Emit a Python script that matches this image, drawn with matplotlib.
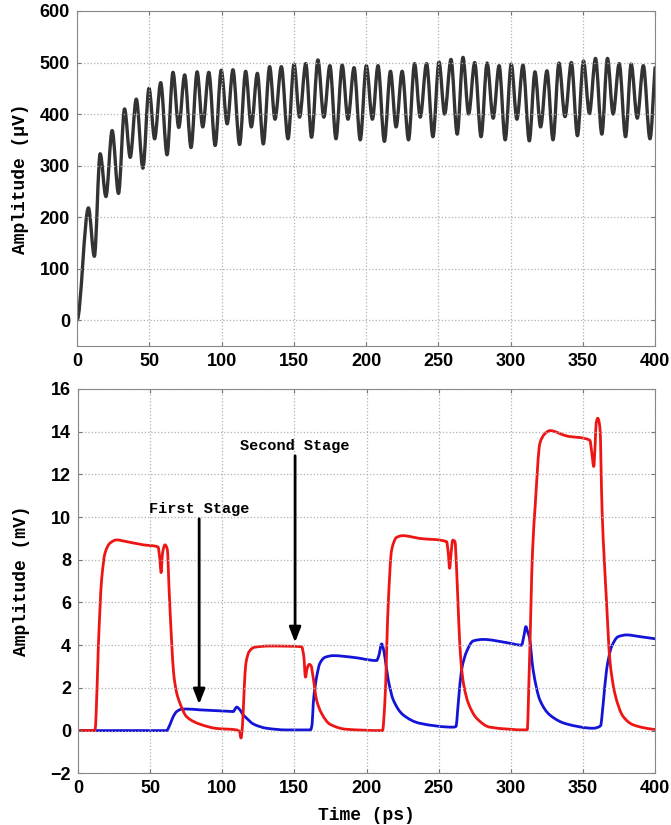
import matplotlib
matplotlib.use("Agg")
import matplotlib.pyplot as plt
from matplotlib.path import Path
from matplotlib.patches import PathPatch

# top panel: times (ps) and amplitudes (uV) of each crest/valley of the ringing
ring_t = [0, 7.9, 12, 16, 20, 24.3, 28.7, 32.9, 36.8, 41, 45.6, 49.8, 53.7, 57.9, 62.3,
          66.4, 70.4, 74.5, 78.9, 83.1, 87, 91.2, 95.6, 99.8, 103.9, 107.9, 112.5, 116.7,
          120.6, 124.8, 128.9, 133.3, 137, 141.4, 146, 150.2, 154, 158.3, 162.3, 166.7,
          170.8, 175, 179.2, 183.5, 187.5, 191.7, 196, 200.2, 204.4, 208.3, 212.7, 216.9,
          220.8, 225, 229.4, 233.6, 237.5, 241.9, 246.3, 250.5, 254.4, 258.8, 263.1, 267.1,
          271, 275.2, 279.6, 283.8, 288, 292.1, 296.3, 300.5, 304.4, 308.6, 313, 316.9,
          320.8, 325.2, 329.4, 333.5, 337.7, 342.1, 346.3, 350.5, 354.6, 358.8, 363.2,
          367.1, 371, 375.2, 379.6, 383.5, 387.7, 391.9, 396.5, 400]
ring_v = [0, 218, 124, 323, 240, 368, 246, 410, 316, 429, 295, 450, 352, 461, 321,
          481, 374, 476, 335, 482, 375, 481, 339, 485, 381, 486, 341, 483,
          375, 479, 342, 492, 390, 492, 352, 497, 394, 498, 355, 505,
          394, 494, 352, 495, 390, 490, 350, 494, 390, 494, 347, 483,
          375, 483, 350, 498, 394, 498, 356, 501, 400, 506, 361, 510,
          400, 500, 356, 499, 392, 494, 350, 497, 390, 495, 348, 482,
          375, 484, 350, 499, 395, 500, 358, 503, 401, 508, 361,
          508, 400, 498, 356, 497, 392, 494, 352, 490]

# bottom panel: red and blue node voltages (mV)
red_t = [0, 11.8, 12.6, 14.1, 16.4, 18.7, 22.2, 26.8, 33.7, 45.3, 55.5, 56.8, 57.6, 58.6,
         60.3, 61.9, 63.3, 64.9, 66.3, 68.3, 70.7, 75.3, 84.5, 96, 110, 112, 113, 114,
         115.3, 116.4, 118.7, 122.2, 133, 155, 156.5, 157.7, 158.8, 160.3, 161.5, 163,
         165.4, 168.9, 174.6, 186.2, 211.1, 212.7, 215.1, 217.4, 220.9, 225, 237, 255.5,
         256.7, 257.6, 258.6, 259.8, 261.3, 262.5, 264, 265.5, 267.5, 270.5, 276.3, 285.5,
         311.4, 312.8, 315.1, 316.9, 320.2, 323.6, 327.1, 338.7, 354.8, 356.2, 357.5,
         358.5, 359.2, 360.3, 361.8, 363.3, 366.4, 368.7, 372.1, 377.9, 384.8, 398.7, 400]
red_v = [0, 0, 0.8, 3.9, 7.06, 8.3, 8.78, 8.93, 8.85, 8.7, 8.6, 8.0, 7.4, 8.3,
         8.7, 8.5, 6.4, 4.2, 2.7, 1.8, 1.28, 0.65, 0.3, 0.1, 0.03, -0.05, -0.35, 0.2,
         2.06, 3.15, 3.7, 3.9, 3.96, 3.93, 3.5, 2.5, 2.9, 3.1, 3.05, 2.5,
         1.43, 0.8, 0.3, 0.06, 0.0, 1.3, 6.0, 8.45, 9.05, 9.13, 9.0, 8.85,
         8.3, 7.6, 8.3, 8.92, 8.85, 7.5, 5.0, 3.2, 2.1, 1.3, 0.58, 0.16,
         0.03, 2.8, 8.4, 10.5, 13.46, 13.9, 14.05, 13.8, 13.6, 13.0, 12.37,
         13.4, 14.4, 14.63, 14.2, 10.3, 6.0, 3.3, 1.75, 0.66, 0.27, 0.06, 0.05]
blue_t = [0, 61.4, 63.7, 66, 68.4, 71.8, 75.3, 84.5, 105.3, 107.6, 110, 111.9, 114.6,
          116.9, 121.5, 130.7, 144.6, 161.2, 162.3, 163.1, 165.4, 167.7, 171.2, 177,
          190.8, 207, 208.5, 210.5, 211.8, 212.7, 215.1, 218.6, 225.5, 237, 260.1, 262,
          263.6, 265.9, 269.4, 274, 280.9, 297.1, 307.5, 309, 310.5, 311.8, 312.8, 315.5,
          320.2, 327.1, 338.7, 357.1, 362.2, 364.1, 366.4, 369.9, 374.5, 380.3, 389.5, 400]
blue_v = [0, 0, 0.27, 0.65, 0.89, 1.0, 1.01, 0.97, 0.9, 0.89, 1.1, 1.0, 0.73,
          0.58, 0.31, 0.11, 0.03, 0.03, 0.3, 1.28, 2.5, 3.15, 3.43, 3.51,
          3.43, 3.28, 3.5, 4.06, 3.8, 3.46, 2.37, 1.43, 0.73, 0.34, 0.16, 0.19,
          1.28, 2.84, 3.7, 4.2, 4.27, 4.12, 4.0, 4.4, 4.87, 4.6, 4.4, 2.84,
          1.43, 0.73, 0.31, 0.11, 0.22, 1.28, 2.84, 3.93, 4.4, 4.48, 4.4, 4.3]

# (label, arrow x, text y, arrow tip y)
stages = [("First Stage", 84, 10.4, 1.1),
          ("Second Stage", 150.5, 13.35, 4.0)]

mono = "Liberation Mono"
sans = "Liberation Sans"


def smooth_path(xs, ys, flat_start=False):
    # monotone cubic (Fritsch-Carlson tangents) written as bezier segments
    n = len(xs)
    h = [xs[i + 1] - xs[i] for i in range(n - 1)]
    d = [(ys[i + 1] - ys[i]) / h[i] for i in range(n - 1)]
    m = [0.0] * n
    m[0], m[-1] = (0.0 if flat_start else d[0]), d[-1]
    for i in range(1, n - 1):
        if d[i - 1] * d[i] <= 0:
            m[i] = 0.0
        else:
            w1 = 2 * h[i] + h[i - 1]
            w2 = h[i] + 2 * h[i - 1]
            m[i] = (w1 + w2) / (w1 / d[i - 1] + w2 / d[i])
    verts = [(xs[0], ys[0])]
    codes = [Path.MOVETO]
    for i in range(n - 1):
        k = h[i] / 3
        verts += [(xs[i] + k, ys[i] + m[i] * k),
                  (xs[i + 1] - k, ys[i + 1] - m[i + 1] * k),
                  (xs[i + 1], ys[i + 1])]
        codes += [Path.CURVE4] * 3
    return Path(verts, codes)


def trace(ax, xs, ys, color, lw, flat_start=False):
    ax.add_patch(PathPatch(smooth_path(xs, ys, flat_start), fill=False, edgecolor=color,
                           linewidth=lw, capstyle="round", joinstyle="round"))


def style(ax):
    ax.grid(True, linestyle=":", color="#b0b0b0", linewidth=0.9)
    ax.tick_params(direction="in", top=True, right=True, length=3, color="#777777",
                   labelsize=13, pad=5)
    for s in ax.spines.values():
        s.set_color("#888888")
    for lab in ax.get_xticklabels() + ax.get_yticklabels():
        lab.set_fontfamily(sans)
        lab.set_fontweight("bold")


fig = plt.figure(figsize=(6.71, 8.25), dpi=100)
ax1 = fig.add_axes([0.1148, 0.5806, 0.8614, 0.4061])
ax2 = fig.add_axes([0.1162, 0.0627, 0.8600, 0.4658])

trace(ax1, ring_t, ring_v, "#333333", 2.4, flat_start=True)
ax1.set_xlim(0, 400)
ax1.set_ylim(-50, 600)
ax1.set_xticks(range(0, 401, 50))
ax1.set_yticks(range(0, 601, 100))
ax1.set_ylabel("Amplitude (\u03bcV)", fontfamily=mono, fontweight="bold", fontsize=13,
               labelpad=8)
style(ax1)

trace(ax2, blue_t, blue_v, "#1414d8", 2.0)
trace(ax2, red_t, red_v, "#ee1515", 2.0)
for name, x, ty, tip in stages:
    ax2.annotate("", xy=(x, tip), xytext=(x, ty - 0.35),
                 arrowprops=dict(arrowstyle="-|>,head_length=0.9,head_width=0.35",
                                 color="black", lw=2.0))
    ax2.text(x, ty, name, ha="center", va="center", fontfamily=mono,
             fontweight="bold", fontsize=11)
ax2.set_xlim(0, 400)
ax2.set_ylim(-2, 16)
ax2.set_xticks(range(0, 401, 50))
ax2.set_yticks(range(-2, 17, 2))
ax2.set_xlabel("Time (ps)", fontfamily=mono, fontweight="bold", fontsize=13, labelpad=7)
ax2.set_ylabel("Amplitude (mV)", fontfamily=mono, fontweight="bold", fontsize=13,
               labelpad=15)
style(ax2)

fig.savefig("out.png", dpi=100)
